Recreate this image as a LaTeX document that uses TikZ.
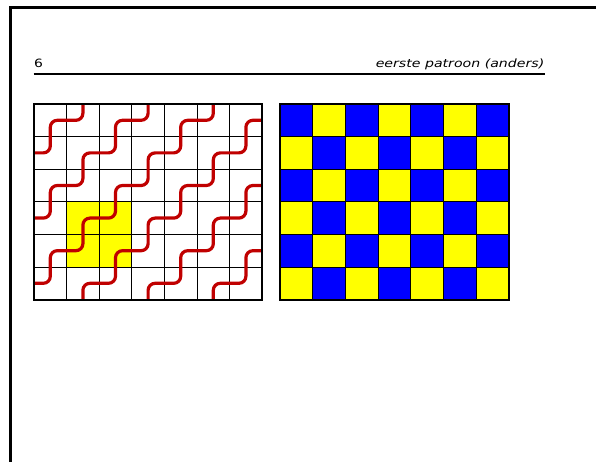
\documentclass[tikz,border=0pt]{standalone}
\usepackage{fontspec}
\setsansfont{DejaVu Sans}
\usepackage{graphicx}
\definecolor{tilered}{RGB}{192,0,0}
\definecolor{tileyellow}{RGB}{255,255,0}
\definecolor{tileblue}{RGB}{0,0,255}
\tikzset{
  frameline/.style={line width=2.8pt, line join=miter},
  headtext/.style={inner sep=0pt, font=\sffamily\fontsize{11.4}{13}\selectfont},
  gridthin/.style={line width=0.7pt, draw=black},
  gridouter/.style={line width=1.8pt, draw=black},
  redpath/.style={line width=3.2pt, draw=tilered, rounded corners=7pt},
  cellline/.style={line width=0.8pt, draw=black}
}
\begin{document}
\begin{tikzpicture}[x=1pt,y=-1pt]
\useasboundingbox (0,0) rectangle (596,462);
% frame
\draw[frameline] (10.5,470) -- (10.5,7.3) -- (600,7.3);
% header
\node[headtext, anchor=base west] (pagenum) at (34,68) {\scalebox{1.22}[1]{6}};
\node[headtext, anchor=base east] (title) at (544.5,68) {\scalebox{1.24}[1]{\itshape eerste patroon (anders)}};
\draw[line width=2pt] (33.5,74) -- (544.5,74);
% left grid with curves
\begin{scope}[shift={(34pt,-299.6pt)}, x=32.6pt, y=32.6pt]
  \fill[tileyellow] (1,1) rectangle (3,3);
  \foreach \i in {1,...,6} { \draw[gridthin] (\i,0) -- (\i,6); }
  \foreach \j in {1,...,5} { \draw[gridthin] (0,\j) -- (7,\j); }
  \begin{scope}
    \clip (0,0) rectangle (7,6);
    \foreach \s in {4,2,0,-2,-4,-6} {
      \draw[redpath] ({9.5},{9.5+(\s)})
        \foreach \k in {9,8,...,-3} { -- ({\k+0.5},{\k+0.5+(\s)}) -- ({\k-0.5},{\k+0.5+(\s)}) };
    }
  \end{scope}
  \draw[gridouter] (0,0) rectangle (7,6);
\end{scope}
% right checkerboard
\begin{scope}[shift={(280pt,-299.6pt)}, x=32.7pt, y=32.6pt]
  \foreach \i in {0,...,6} {
    \foreach \j in {0,...,5} {
      \pgfmathtruncatemacro\cellpar{mod(\i+\j,2)}
      \ifnum\cellpar=1
        \filldraw[cellline, fill=tileblue] (\i,\j) rectangle ++(1,1);
      \else
        \filldraw[cellline, fill=tileyellow] (\i,\j) rectangle ++(1,1);
      \fi
    }
  }
  \draw[gridouter] (0,0) rectangle (7,6);
\end{scope}
\end{tikzpicture}
\end{document}
